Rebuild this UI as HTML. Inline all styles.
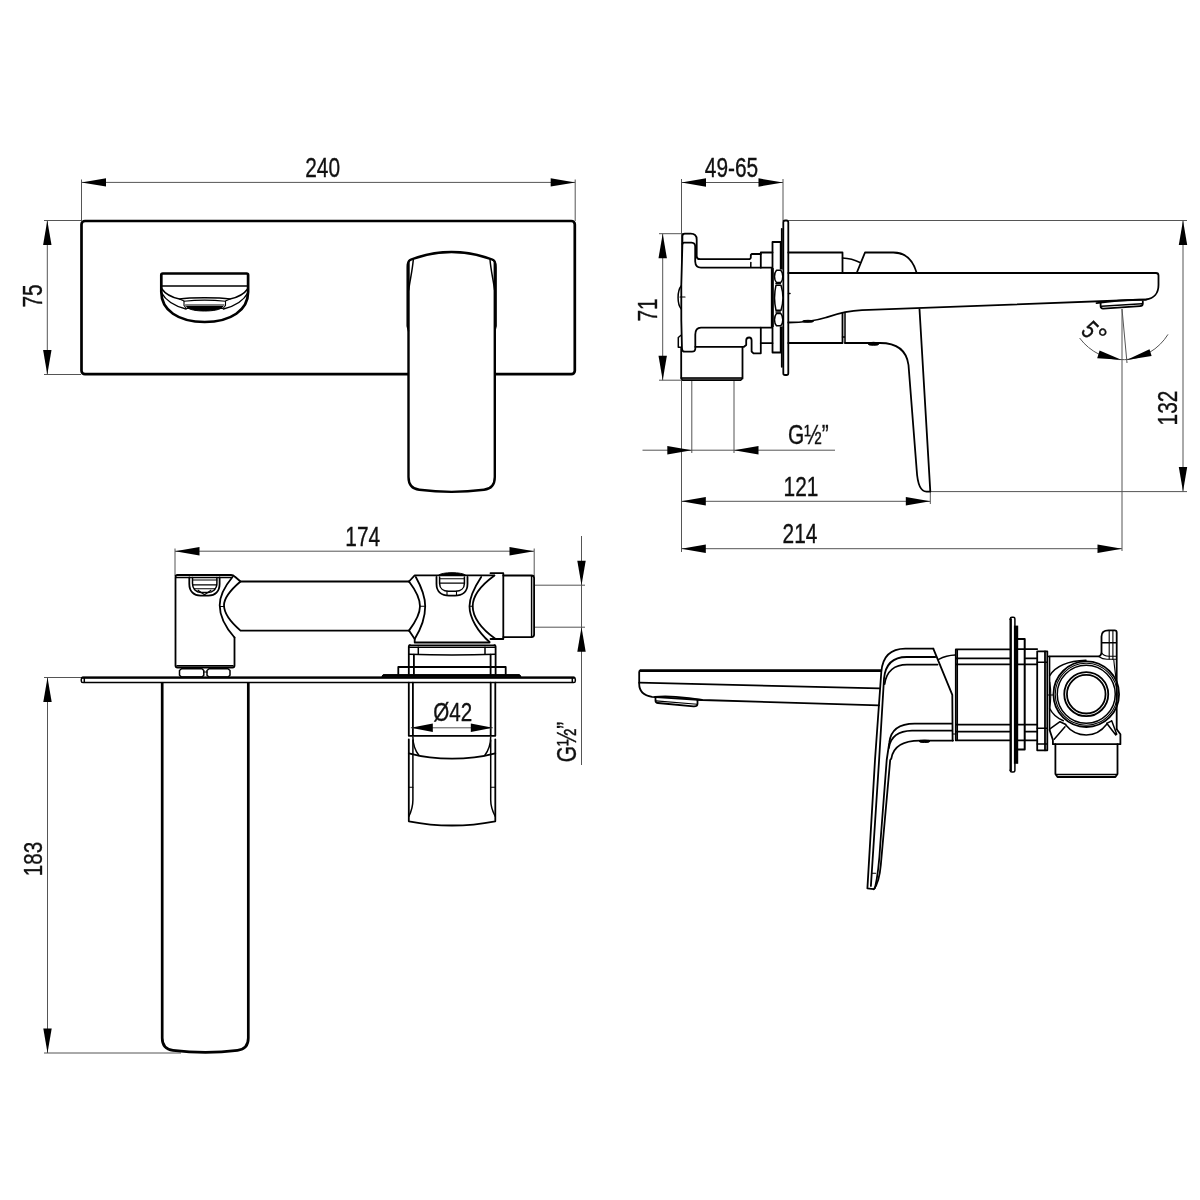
<!DOCTYPE html>
<html><head><meta charset="utf-8"><title>Drawing</title>
<style>
html,body{margin:0;padding:0;background:#fff;}
body{width:1200px;height:1200px;overflow:hidden;font-family:"Liberation Sans",sans-serif;}
svg{display:block;position:absolute;left:0;top:0;filter:grayscale(1);}
.k{fill:none;stroke:#000;stroke-width:2.7;stroke-linejoin:round;stroke-linecap:round;}
.kw{fill:#fff;stroke:#000;stroke-width:2.4;stroke-linejoin:round;stroke-linecap:round;}
.s{fill:none;stroke:#000;stroke-width:1.8;stroke-linejoin:round;stroke-linecap:round;}
.sw{fill:#fff;stroke:#000;stroke-width:1.8;stroke-linejoin:round;stroke-linecap:round;}
.m{fill:none;stroke:#000;stroke-width:1.5;stroke-linejoin:round;stroke-linecap:round;}
.mw{fill:#fff;stroke:#000;stroke-width:1.5;stroke-linejoin:round;stroke-linecap:round;}
.n{fill:none;stroke:#000;stroke-width:1.1;stroke-linejoin:round;stroke-linecap:round;}
.t{fill:none;stroke:#555;stroke-width:1;}
.a{fill:#000;stroke:none;}
.b{fill:#000;stroke:#000;stroke-width:1;}
.tx{font-family:"Liberation Sans",sans-serif;fill:#111;stroke:#111;stroke-width:0.35;}
</style></head><body>
<svg width="1200" height="1200" viewBox="0 0 1200 1200">
<rect x="0" y="0" width="1200" height="1200" fill="#fff"/>
<g id="viewA">
<path class="t" d="M81.5 179.5L81.5 221"/>
<path class="t" d="M575.2 179.5L575.2 221"/>
<path class="t" d="M81.5 182.4L575.2 182.4"/>
<polygon class="a" points="81.50,182.40 106.00,178.20 106.00,186.60"/>
<polygon class="a" points="575.20,182.40 550.70,186.60 550.70,178.20"/>
<text class="tx" font-size="27.3" text-anchor="middle" transform="translate(322.6 177.3) rotate(0) scale(0.765 1)" >240</text>
<path class="t" d="M44 220.5L81 220.5"/>
<path class="t" d="M44 374.5L81 374.5"/>
<path class="t" d="M47.3 220.5L47.3 374.5"/>
<polygon class="a" points="47.30,220.50 51.50,245.00 43.10,245.00"/>
<polygon class="a" points="47.30,374.50 43.10,350.00 51.50,350.00"/>
<text class="tx" font-size="27.3" text-anchor="middle" transform="translate(42.2 296) rotate(-90) scale(0.765 1)" >75</text>
<rect class="k" x="81.5" y="221" width="493.3" height="153.2" rx="3.5"/>
<path class="k" d="M161.3 292 V275 Q161.3 273.5 162.8 273.5 H246.6 Q248.1 273.5 248.1 275 V292 C248.1 310 231 322 204.7 322 C178 322 161.3 310 161.3 292Z" />
<path class="m" d="M161.3 286L248.1 286"/>
<path class="m" d="M161.5 288.5 C165 293.5 172 297.5 179.5 299 C190 297.3 219 297.3 230 299 C237.5 297.5 244.5 293.5 248 288.5" />
<path class="m" d="M161.3 292.5 C166 301 176 306.5 186 309 M223.5 309 C233.5 306.5 243.5 301 248.1 292.5" />
<path class="n" d="M179.5 299 L184 301 V305.5 L186.5 308.5 H223 L225.5 305.5 V301 L230 299" />
<path class="n" d="M184 301.3 C195 300 214 300 225.5 301.3 M185.5 305 H224" />
<path class="b" d="M186.5 306.5 H223 C221 310 212 311 204.7 311 C197 311 188.5 310 186.5 306.5Z"/>
<path class="kw" d="M408.5 477 V262.5 Q408.5 260.5 411 259.5 C437 249.5 466 249.5 492.3 259.5 Q494.8 260.5 494.8 262.5 V477 C494.8 485 491 489 484 489.8 C462 492.6 441 492.6 419.3 489.8 C412.3 489 408.5 485 408.5 477Z" />
<path class="m" d="M411 259.8 C407 262 407.2 264 407.2 268 V326 L408.5 331 M413.3 259.5 C412.5 270 410 280 408.7 290" />
<path class="m" d="M492.3 259.8 C496.3 262 496.1 264 496.1 268 V326 L494.8 331 M490 259.5 C490.8 270 493.3 280 494.6 290" />
</g>
<g id="viewB">
<path class="t" d="M681.5 179L681.5 552"/>
<path class="t" d="M783 179L783 221"/>
<path class="t" d="M681.5 182.5L783 182.5"/>
<polygon class="a" points="681.50,182.50 706.00,178.30 706.00,186.70"/>
<polygon class="a" points="783.00,182.50 758.50,186.70 758.50,178.30"/>
<text class="tx" font-size="27.3" text-anchor="middle" transform="translate(731.5 177.3) rotate(0) scale(0.765 1)" >49-65</text>
<path class="t" d="M659 233.7L690 233.7"/>
<path class="t" d="M659 380.2L683 380.2"/>
<path class="t" d="M662.7 233.7L662.7 380.2"/>
<polygon class="a" points="662.70,233.70 666.90,258.20 658.50,258.20"/>
<polygon class="a" points="662.70,380.20 658.50,355.70 666.90,355.70"/>
<text class="tx" font-size="27.3" text-anchor="middle" transform="translate(656.5 310) rotate(-90) scale(0.765 1)" >71</text>
<path class="t" d="M691.8 381L691.8 453"/>
<path class="t" d="M734 381L734 453"/>
<path class="t" d="M642.5 450.2L835 450.2"/>
<polygon class="a" points="691.80,450.20 667.30,454.40 667.30,446.00"/>
<polygon class="a" points="734.00,450.20 758.50,446.00 758.50,454.40"/>
<text class="tx" font-size="27.3" text-anchor="middle" transform="translate(808.3 443.5) rotate(0) scale(0.765 1)" >G½”</text>
<path class="t" d="M681.3 501.3L930.3 501.3"/>
<path class="t" d="M930.3 491.6L930.3 504"/>
<polygon class="a" points="681.30,501.30 705.80,497.10 705.80,505.50"/>
<polygon class="a" points="930.30,501.30 905.80,505.50 905.80,497.10"/>
<text class="tx" font-size="27.3" text-anchor="middle" transform="translate(801 495.5) rotate(0) scale(0.765 1)" >121</text>
<path class="t" d="M681.3 548.7L1122 548.7"/>
<polygon class="a" points="681.30,548.70 705.80,544.50 705.80,552.90"/>
<polygon class="a" points="1122.00,548.70 1097.50,552.90 1097.50,544.50"/>
<text class="tx" font-size="27.3" text-anchor="middle" transform="translate(800 543) rotate(0) scale(0.765 1)" >214</text>
<path class="t" d="M788.3 220.5L1187 220.5"/>
<path class="t" d="M930.3 491.6L1187 491.6"/>
<path class="t" d="M1183 220.5L1183 491.6"/>
<polygon class="a" points="1183.00,220.50 1187.20,245.00 1178.80,245.00"/>
<polygon class="a" points="1183.00,491.60 1178.80,467.10 1187.20,467.10"/>
<text class="tx" font-size="27.3" text-anchor="middle" transform="translate(1177 408) rotate(-90) scale(0.765 1)" >132</text>
<path class="t" d="M1122 309L1122 551"/>
<path class="t" d="M1122 309L1127 363"/>
<path class="t" d="M1079.6 338 A53.4 53.4 0 0 0 1168 334.4" />
<polygon class="a" points="1121.3,359.8 1097.2,358.2 1099.6,350.4"/>
<polygon class="a" points="1126.5,360 1149.5,349.2 1151.6,356"/>
<text class="tx" font-size="26" text-anchor="middle" transform="translate(1083.6 335.9) rotate(45) scale(0.765 1)" >5</text>
<text class="tx" font-size="26" text-anchor="middle" transform="translate(1092.5 342.5) rotate(45) scale(1 1)" >°</text>
<rect class="sw" x="783.3" y="220.5" width="5" height="154.5" rx="1.8"/>
<path class="s" d="M781.8 228.8 V366.8" />
<path class="s" d="M682 349.5 L681.3 320 V285 L682.4 244 V236.2 Q682.4 233.7 684.8 233.7 H690.7 Q696.7 233.7 696.7 239.5 V256.2 Q696.7 259.2 700.2 259.2 H749.7 L750.8 258 V255 L751.8 254 H760.8" />
<path class="s" d="M682.4 244 Q682.6 242.7 684 242.7 H691.5 Q695.2 243 695.2 246.5 V261.5 Q695.5 267.7 701 267.7 H771.7" />
<path class="m" d="M750.8 262.5 V267" />
<path class="s" d="M760.8 267.7 V252.5 H772.5" />
<path class="s" d="M772.5 352.5 V242 H780.7 V352.5 Z" />
<path class="m" d="M771.6 268.5 V326.5" />
<path class="n" d="M773.2 268.5 V326.5" />
<rect x="774" y="269.5" width="8.4" height="57" fill="#fff"/>
<path class="mw" d="M776.5 270.3 H780.8 C782.3 272 782.8 274 782.8 276.5 C782.8 279 782.3 281 780.8 282.6 H776.5 C775 281 774.5 279 774.5 276.5 C774.5 274 775 272 776.5 270.3Z" />
<path class="mw" d="M776.5 313.5 H780.8 C782.3 315.2 782.8 317.2 782.8 319.7 C782.8 322.2 782.3 324.2 780.8 325.8 H776.5 C775 324.2 774.5 322.2 774.5 319.7 C774.5 317.2 775 315.2 776.5 313.5Z" />
<path class="mw" d="M776 285.2 H781 C783.4 293 783.4 302.5 781 310.3 H776 C774.2 302.5 774.2 293 776 285.2Z" />
<path class="m" d="M776 283.6 H780.3 M776 312 H780.3" />
<path class="m" d="M788.5 293.5 H790" />
<path class="s" d="M771.7 327.7 H701 Q695.3 328 695.3 334.5 V349 Q695 351.7 692 351.7 H685 Q682.2 351.7 682.2 349.5" />
<path class="s" d="M695.3 346.8 H744 L746.2 345 V340.5 Q746.2 337.5 749.2 337.5 Q751.6 337.5 751.6 340.5 V351.5 L753.5 353.3 H760.8 V327.7" />
<path class="s" d="M760.8 343.2 H772.5" />
<path class="s" d="M681.2 348 V378.5 M742.5 347 V378.5" />
<path d="M681.2 377.8 H742.5 L741 380.3 H682.5Z" fill="#444" stroke="#000" stroke-width="1.2" stroke-linejoin="round"/>
<path class="m" d="M681.3 285.7 C677 291 677 304 681.3 309" />
<path class="n" d="M680 297 H685" />
<path class="m" d="M681 335.2 L678.3 337.5 V347.3 H681" />
<path class="s" d="M788.3 252.5 H842.5 V273" />
<path class="s" d="M788.3 273 H1156 Q1158.5 273 1158.5 275.5 V285 C1158.5 293 1154 298.5 1146 299.5 L862 310.2 C845 311 836 314.2 826 317.5 C814 321.3 804 322.5 788.3 322.5" />
<path class="s" d="M856.7 273 L865 252.5 H893.3 C905 252.5 913 260 916.7 273" />
<path class="m" d="M842.5 258 C849 258.3 855 260 860 262.5" />
<path class="s" d="M788.3 343 H842.5 V313" />
<path class="m" d="M845 312.5 V343 M842.5 337 H845" />
<path class="s" d="M845 343 H880 C897 343 906.5 350 908.5 365 L916.7 470 C917.3 481 920 491.6 926.5 491.6 H930.3 L919.5 309.3" />
<ellipse class="b" cx="808" cy="321.3" rx="5.5" ry="1"/>
<ellipse class="b" cx="873.5" cy="343.8" rx="5.5" ry="1.5"/>
<path class="s" d="M1100.6 303.2 V306.3 Q1100.8 308.8 1103.3 308.6 L1140 306.2 Q1142.6 306 1142.8 303.6 V301.3" />
<path class="m" d="M1101.5 306.3 L1142 303.7" />
<path class="s" d="M1096.5 303.2 C1110 301 1128 299.8 1146 299.6" />
</g>
<g id="viewC">
<path class="t" d="M175 548.5L175 576"/>
<path class="t" d="M534.2 548.5L534.2 576"/>
<path class="t" d="M175 551.2L534 551.2"/>
<polygon class="a" points="175.00,551.20 199.50,547.00 199.50,555.40"/>
<polygon class="a" points="534.00,551.20 509.50,555.40 509.50,547.00"/>
<text class="tx" font-size="27.3" text-anchor="middle" transform="translate(362.7 546.2) rotate(0) scale(0.765 1)" >174</text>
<path class="t" d="M44 677.5L82 677.5"/>
<path class="t" d="M44 1053L181 1053"/>
<path class="t" d="M47.5 677.5L47.5 1053"/>
<polygon class="a" points="47.50,677.50 51.70,702.00 43.30,702.00"/>
<polygon class="a" points="47.50,1053.00 43.30,1028.50 51.70,1028.50"/>
<text class="tx" font-size="26.4" text-anchor="middle" transform="translate(42.2 859) rotate(-90) scale(0.78 1)" >183</text>
<path class="t" d="M534.5 585.2L585 585.2"/>
<path class="t" d="M534.5 627.2L585 627.2"/>
<path class="t" d="M581.5 536L581.5 765"/>
<polygon class="a" points="581.50,585.20 577.30,560.70 585.70,560.70"/>
<polygon class="a" points="581.50,627.20 585.70,651.70 577.30,651.70"/>
<text class="tx" font-size="27.3" text-anchor="middle" transform="translate(576.3 742) rotate(-90) scale(0.765 1)" >G½”</text>
<path class="k" d="M162.2 682.5 V1038 C162.2 1046 166 1049.5 173 1050.3 C195 1053 216 1053 237.5 1050.3 C244.5 1049.5 248.3 1046 248.3 1038 V682.5" />
<rect class="mw" x="81.3" y="677.6" width="494" height="4.9" rx="1.6"/>
<path d="M82.5 677.7 H574" fill="none" stroke="#000" stroke-width="2.2" stroke-linecap="round"/>
<path class="m" d="M84.3 678 V682.3 M572.3 678 V682.3" />
<path class="s" d="M177.5 575 H231 Q233.3 575 235 576.8 L240.5 581.5 H409 M234.5 637.5 V665.5 Q234.5 667.5 232.5 667.5 H177.5 Q175.5 667.5 175.5 665.5 V577 Q175.5 575 177.5 575" />
<path class="m" d="M176 577.6 H231.5" />
<path class="s" d="M232.5 577 C225 586 219.7 596 219.7 605.3 C219.7 616 226 628 234.5 637.5" />
<path class="n" d="M219.8 606.5 H224" />
<path class="s" d="M240.5 581.5 C230.5 590 224 598 224 605.3 C224 613 230.5 622 240.5 630.6 H409" />
<path class="s" d="M189.3 577.5 V584 C189.3 591.5 194 595.7 200.5 595.7 H208.5 C215 595.7 219.6 591.5 219.6 584 V577.5" />
<path class="m" d="M192.5 577.5 V583.5 C192.5 589 196 592.4 201 592.4 H208 C213 592.4 216.9 589 216.9 583.5 V577.5" />
<path class="n" d="M192.5 580 H216.9 M192.5 584.9 H216.9 M194 588.7 H215.5 M198 590.3 L204.5 594.7 L211 590.3" />
<path class="m" d="M177 665.7 H233" />
<path class="m" d="M181.5 668.8 H202 L203.8 670.5 V675.3 L202 677 H181.5 L179.5 675.3 V670.5Z" />
<path class="m" d="M209 668.8 H228 L230 670.5 V675.3 L228 677 H209 L207 675.3 V670.5Z" />
<path class="n" d="M203.8 672 H207" />
<path class="s" d="M409 581.5 L414.7 575.3 H494" />
<path class="s" d="M409 630.6 L414.7 639 V642.5 H489.5" />
<path class="s" d="M409 581.5 C415.5 590 420 598 420 606.3 C420 614 415.5 622 409 630.6" />
<path class="s" d="M415.8 577 C422 588 425.2 597 425.2 606.3 C425.2 616 421.5 628 414.7 639" />
<path class="s" d="M481.2 577 C474 588 469.5 597 469.5 606.3 C469.5 618 478 632 489.5 642" />
<path class="s" d="M494.5 575.5 C480 586 472.7 597 472.7 606.3 C472.7 617 481 629 495 638.5" />
<path class="n" d="M420 606.3 H425 M469.5 606.3 H472.7" />
<path class="s" d="M436.5 577 V584 C436.5 592 442 595.6 449 595.6 H455 C462 595.6 467.5 592 467.5 584 V577" />
<path class="m" d="M439.6 577 V583.5 C439.6 588.5 443.5 591.3 448.5 591.3 H455.5 C460.5 591.3 464.4 588.5 464.4 583.5 V577" />
<path class="n" d="M439.6 578.8 H464.4 M439.6 583.1 H464.4 M447 591.3 V595.3 M456.5 591.3 V595.3" />
<path class="b" d="M438.5 575.3 C442 571.8 462 571.8 465.7 575.3Z"/>
<path class="s" d="M490.5 573.2 H503.3 V639 H490.5" />
<path class="s" d="M503.3 575.5 H531.5 Q534.1 575.5 534.1 578 V634.6 Q534.1 637.1 531.5 637.1 H503.3" />
<path class="m" d="M531.6 576 V636.6" />
<path class="m" d="M409.5 645.2 H494.8 M409 647.2 H495.3" />
<path class="s" d="M408.8 674 V646.5 Q408.8 645.2 410 645.2 M495.6 674 V646.5 Q495.6 645.2 494.4 645.2 M413.9 654.6 V674 M490.6 654.6 V674" />
<path class="m" d="M418.3 647.2 V654.2 M485 647.2 V654.2" />
<path class="m" d="M409 654.2 C430 655 474 655 495.3 654.2" />
<path class="s" d="M398.3 674 V667 H505.7 V674" />
<path class="b" d="M383.2 674.6 H519.5 L521 676.4 H381.8Z"/>
<path class="s" d="M408.8 682.6 V735.8 H495.3 V682.6 M412.9 682.6 V735 M490.7 682.6 V735" />
<path class="t" d="M410.8 727.8L492.8 727.8"/>
<polygon class="a" points="410.80,727.80 432.80,723.60 432.80,732.00"/>
<polygon class="a" points="492.80,727.80 470.80,732.00 470.80,723.60"/>
<text class="tx" font-size="25.4" text-anchor="middle" transform="translate(452.7 721.4) rotate(0) scale(0.81 1)" >Ø42</text>
<path class="s" d="M408.8 739.3 V821.3 C436 826.6 468 826.6 495.3 821.3 V739.3" />
<path class="s" d="M408.8 753.3 C436 760.5 468 760.5 495.3 753.3" />
<path class="m" d="M412.9 737 C412.9 745 415.5 751 419 755.5 M490.7 737 C490.7 745 488 751 484.7 755.5" />
<path class="m" d="M412.9 740 V800 C412.9 808 410.5 813 408.8 816.5 M490.7 740 V800 C490.7 808 493.5 813 495.3 816.5" />
<path class="n" d="M408.8 787.3 H412.9 M490.7 787.3 H495.3" />
</g>
<g id="viewD">
<path class="k" d="M880.7 670.7 H640.6" />
<path class="s" d="M640.4 670.7 Q639.2 670.7 639.2 672 V684 C639.2 691 644 695.5 652 696.8 L702 700 L879 705.3" />
<path class="s" d="M639.2 682.7 L879.3 688.3" />
<path class="s" d="M655.5 697.2 V700.8 Q655.7 702.8 658 703 L693.5 706.4 Q697.3 706.6 697.5 704 V699.8" />
<path class="n" d="M656 700.9 L697.3 704.2" />
<path class="s" d="M655 697 C665 695.6 685 696.8 702 700" />
<path class="s" d="M933.3 648.7 H905.3 C890 648.7 882.5 657 881.3 672 L875 760 L867.4 888.4 L873.8 889.2" />
<path class="s" d="M935.3 657 H906.7 C893 657 885.3 664.5 884 678.7 L879.1 760 L870.9 886" />
<path class="s" d="M937.5 664.6 H907 C895 664.6 886.5 671 884.6 684" />
<path class="s" d="M952 723.7 H914.7 C899 723.7 890.6 730.5 889.3 742.7 L886.7 760 L880.3 844 C879.3 862 877.5 877 875 888" />
<path class="s" d="M952 730.7 H912 C899 731 890.5 737 888.8 748" />
<path class="s" d="M953 740.6 H920 C902 740.6 893 747 891.3 758.7 L890.2 760 L880.8 865 C880 874 878 884 873.8 889.2" />
<path class="n" d="M872 873.2 H875.6" />
<ellipse class="b" cx="924.5" cy="741.3" rx="5.5" ry="1.2"/>
<path class="s" d="M933.3 648.7 L952.3 694.8 L952.6 740.6" />
<path class="m" d="M938.7 659.3 C944 656.5 949 655.2 955.3 655" />
<path class="n" d="M953 734 H956" />
<path class="s" d="M955.8 740.3 V649.4 H1009.5" />
<path class="m" d="M957.3 650 V740" />
<path class="s" d="M956 658.3 H1009.5 M956 664.3 H1009.5 M956 724.7 H1009.5 M956 731.6 H1009.5 M956 740.3 H1009.5" />
<path d="M1010.7 619.2 V770.2" fill="none" stroke="#000" stroke-width="2.4" stroke-linecap="round"/>
<path class="m" d="M1010.3 619.5 V618.8 Q1010.3 617.3 1011.9 617.3 H1013.3 Q1014.9 617.3 1014.9 618.8 V626 M1010.3 769.9 V770.6 Q1010.3 772.1 1011.9 772.1 H1013.3 Q1014.9 772.1 1014.9 770.6 V763.4" />
<rect x="1013.9" y="625.6" width="4.3" height="138.2" fill="#000"/>
<path d="M1018 639 H1024.7 V749.4 H1018" fill="none" stroke="#000" stroke-width="2" stroke-linejoin="round"/>
<path class="s" d="M1018.2 649.1 H1037.2 M1018.2 664.3 H1037.2 M1018.2 724.7 H1037.2 M1018.2 740.3 H1037.2" />
<path class="s" d="M1025.7 658.3 H1037.2 M1025.7 731.6 H1037.2" />
<path class="s" d="M1037.2 651.3 H1047.3 V750.3 H1037.2Z" />
<path class="s" d="M1045 651.3 V750.3" />
<path class="m" d="M1037.2 662.3 H1047.3 M1037.2 728.3 H1047.3 M1037.2 744 H1047.3" />
<path class="s" d="M1048.8 656.4 H1098.3 C1100.5 656 1101.5 654.5 1101.5 652 V636.5 C1101.5 632.5 1104.5 630.4 1108.5 630.4 H1114.7 Q1116.7 630.4 1116.7 632.4 V729.2" />
<path class="n" d="M1109.2 631 V659 M1112.9 631 V659.5" />
<path class="m" d="M1101.8 642.7 H1116.4" />
<path class="n" d="M1101.5 652.5 C1103 655.5 1106 656.3 1109 656.3 H1115.8 M1099 656.7 C1101.5 658.5 1104 659.2 1107 659.2 H1115.8" />
<path class="n" d="M1113.8 660 C1114.5 668 1115.5 673 1115.8 678" />
<path class="m" d="M1049.6 656.4 V730" />
<path class="m" d="M1049.6 675.8 C1055 667 1066 661 1086 660.3" />
<path class="m" d="M1049.6 708.3 C1052 713.5 1057 718 1063.3 720.8" />
<path class="m" d="M1065.8 725 C1071 731.5 1078.5 735 1086.25 735 C1094 735 1101.5 731 1106.7 724.2" />
<path class="n" d="M1048 695 H1053" />
<path class="n" d="M1049.8 682 C1051 690 1051 700 1049.8 708" />
<circle class="s" cx="1086.25" cy="694.2" r="32.8"/>
<circle class="n" cx="1086.25" cy="694.2" r="31"/>
<circle class="m" cx="1086.25" cy="694.2" r="29"/>
<circle class="s" cx="1086.25" cy="694.2" r="22"/>
<circle class="s" cx="1086.25" cy="694.2" r="19.3"/>
<path class="m" d="M1049.6 729.2 L1060 721.7 L1065.8 724.5 M1054.2 739.2 L1065 726.7 M1106.7 723.3 L1115.8 735 M1111.7 720.8 L1116.7 734.2 M1106.7 723.3 L1111.7 720.8" />
<path class="s" d="M1049.6 730 L1052.9 740 V744.2 H1120.4 V734.2 L1116.7 729.2" />
<path class="s" d="M1055.4 744.2 V774 L1057.5 777 H1115.4 L1117.5 774 V744.2" />
<path class="m" d="M1056 774.6 H1117" />
</g>
</svg>
</body></html>
